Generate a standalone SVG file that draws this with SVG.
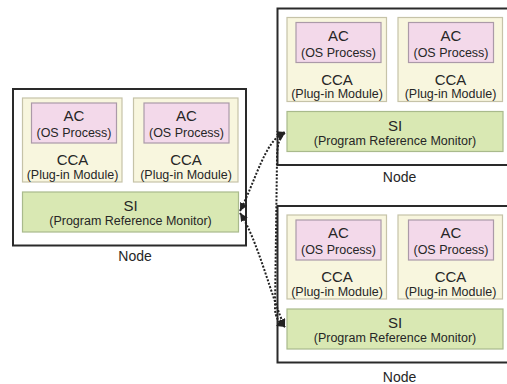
<svg xmlns="http://www.w3.org/2000/svg" width="507" height="384" viewBox="0 0 507 384">
  <style>
    .outer { fill: #ffffff; stroke: #2a2a2a; stroke-width: 2; }
    .cca { fill: #f8f6de; stroke: #c6c3a8; stroke-width: 1.2; }
    .ac { fill: #f3d9ea; stroke: #ab9aa8; stroke-width: 1.2; }
    .si { fill: #d9e8b3; stroke: #a9ba8c; stroke-width: 1.2; }
    text { font-family: "Liberation Sans", Arial, sans-serif; fill: #262626; text-anchor: middle; }
    .t { font-size: 15px; }
    .s { font-size: 12.5px; }
    .lbl { font-size: 14px; }
    .link { fill: none; stroke: #222; stroke-width: 2; stroke-dasharray: 2 1.6; marker-start: url(#head); marker-end: url(#head); }
  </style>
  <defs>
    <marker id="head" markerUnits="userSpaceOnUse" markerWidth="8" markerHeight="8" refX="6" refY="3" orient="auto-start-reverse" viewBox="0 0 6 6">
      <path d="M0,0 L6,3 L0,6 z" fill="#222"/>
    </marker>
    <!-- one node: two plug-in modules over a reference monitor -->
    <g id="nodeBody">
      <rect class="outer" x="13" y="89" width="233" height="156.5"/>
      <rect class="cca" x="22.5" y="98" width="99.5" height="84"/>
      <rect class="ac" x="31.5" y="103" width="85" height="40"/>
      <text class="t" x="74" y="121">AC</text>
      <text class="s" x="74" y="137">(OS Process)</text>
      <text class="t" x="72.5" y="165">CCA</text>
      <text class="s" x="72.5" y="178.5">(Plug-in Module)</text>
      <rect class="cca" x="133.5" y="98" width="104.5" height="84"/>
      <rect class="ac" x="144" y="103" width="85" height="40"/>
      <text class="t" x="186.5" y="121">AC</text>
      <text class="s" x="186.5" y="137">(OS Process)</text>
      <text class="t" x="186" y="165">CCA</text>
      <text class="s" x="186" y="178.5">(Plug-in Module)</text>
      <rect class="si" x="22.5" y="192" width="216" height="40"/>
      <text class="t" x="130.5" y="211">SI</text>
      <text class="s" x="130.5" y="225">(Program Reference Monitor)</text>
    </g>
  </defs>

  <g id="node-left">
    <use href="#nodeBody"/>
    <text class="lbl" x="135" y="261">Node</text>
  </g>

  <g id="node-top-right" transform="translate(264.5,-80.5)">
    <use href="#nodeBody"/>
    <text class="lbl" x="135" y="262">Node</text>
  </g>

  <g id="node-bottom-right" transform="translate(264.5,117)">
    <use href="#nodeBody"/>
    <text class="lbl" x="135" y="264.5">Node</text>
  </g>

  <g id="connectors">
    <path class="link" d="M240,211 C256,180 265,140 285,132"/>
    <path class="link" d="M240,213 C258,240 272,300 285,327"/>
    <path class="link" d="M285,133 C279,137 277,145 277,160 L275,308 C275,317 279,323 285,327"/>
  </g>
</svg>
